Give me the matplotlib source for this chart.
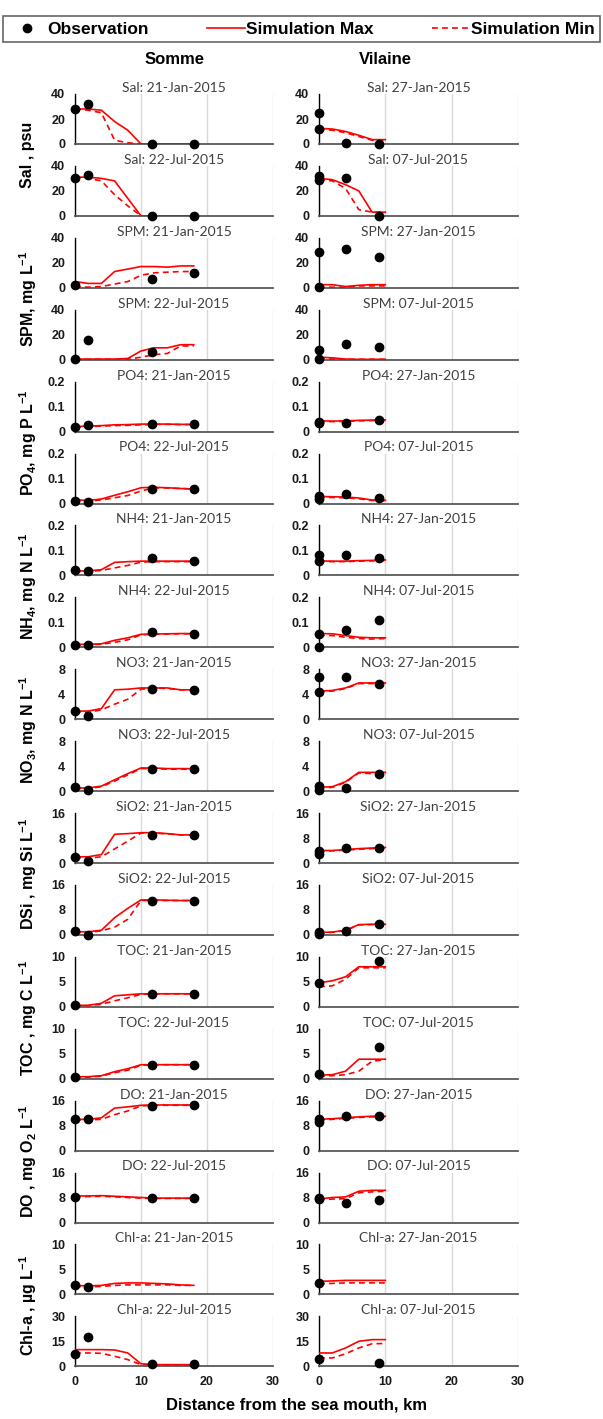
import numpy as np
import matplotlib
matplotlib.use("Agg")
import matplotlib.pyplot as plt

plt.rcParams['font.family'] = ['Liberation Sans', 'DejaVu Sans']
plt.rcParams['mathtext.fontset'] = 'custom'
plt.rcParams['mathtext.rm'] = 'Liberation Sans:bold'
plt.rcParams['mathtext.bf'] = 'Liberation Sans:bold'
plt.rcParams['mathtext.default'] = 'bf'

nan = np.nan

# distances (km)
somme_x_obs = [0, 2, 11.6, 18]
somme_x_sim = [0, 2, 4, 6, 8, 10, 12, 14, 16, 18]
vilaine_x_obs = [0, 0, 4, 9]
vilaine_x_sim = [0, 2, 4, 6, 8, 10]

somme_dates = ["21-Jan-2015", "22-Jul-2015"]
vilaine_dates = ["27-Jan-2015", "07-Jul-2015"]

variables = ["Sal", "SPM", "PO4", "NH4", "NO3", "SiO2", "TOC", "DO", "Chl-a"]
ylabels = ["Sal , psu", "SPM, mg L$^{-1}$", "PO$_4$, mg P L$^{-1}$",
           "NH$_4$, mg N L$^{-1}$", "NO$_3$, mg N L$^{-1}$",
           "DSi , mg Si L$^{-1}$", "TOC , mg C L$^{-1}$",
           "DO , mg O$_2$ L$^{-1}$", "Chl-a , \u00b5g L$^{-1}$"]
# y-axis top for each row (Jan, Jul per variable)
ytops = [40, 40, 40, 40, 0.2, 0.2, 0.2, 0.2, 8, 8, 16, 16, 10, 10, 16, 16, 10, 30]

# ---- Somme ----
sal_s_jan_obs = [28, 32, 0, 0]
sal_s_jan_max = [28, 28, 27, 18, 11, 0, 0, 0, 0, 0]
sal_s_jan_min = [28, 27, 25, 3, 1, 0, 0, 0, 0, 0]
sal_s_jul_obs = [30, 33, 0, 0]
sal_s_jul_max = [31, 31, 30, 28, 14, 0, 0, 0, 0, 0]
sal_s_jul_min = [31, 30, 28, 17, 8, 0, 0, 0, 0, 0]
spm_s_jan_obs = [2.5, nan, 7, 11.5]
spm_s_jan_max = [5, 3.5, 3.5, 13, 15, 17, 17, 16.5, 17.5, 17.5]
spm_s_jan_min = [1, 0.5, 1, 3, 5, 10, 12, 12.5, 13, 13]
spm_s_jul_obs = [0.5, 16, 6, nan]
spm_s_jul_max = [0.5, 0.5, 0.5, 0.5, 1, 7, 9.5, 9.5, 12, 12]
spm_s_jul_min = [0.3, 0.3, 0.3, 0.3, 0.3, 2, 4, 5, 11, 11]
po4_s_jan_obs = [0.02, 0.028, 0.03, 0.03]
po4_s_jan_max = [0.02, 0.022, 0.024, 0.027, 0.028, 0.03, 0.03, 0.03, 0.029, 0.029]
po4_s_jan_min = [0.018, 0.02, 0.022, 0.024, 0.025, 0.027, 0.029, 0.029, 0.028, 0.028]
po4_s_jul_obs = [0.012, 0.008, 0.058, 0.058]
po4_s_jul_max = [0.015, 0.012, 0.018, 0.033, 0.047, 0.063, 0.065, 0.063, 0.06, 0.058]
po4_s_jul_min = [0.012, 0.01, 0.014, 0.023, 0.032, 0.05, 0.063, 0.062, 0.06, 0.058]
nh4_s_jan_obs = [0.02, 0.017, 0.07, 0.058]
nh4_s_jan_max = [0.018, 0.018, 0.023, 0.052, 0.055, 0.057, 0.057, 0.057, 0.057, 0.057]
nh4_s_jan_min = [0.016, 0.016, 0.02, 0.03, 0.04, 0.053, 0.055, 0.055, 0.055, 0.055]
nh4_s_jul_obs = [0.01, 0.01, 0.06, 0.055]
nh4_s_jul_max = [0.012, 0.012, 0.014, 0.028, 0.038, 0.052, 0.053, 0.054, 0.055, 0.055]
nh4_s_jul_min = [0.01, 0.01, 0.012, 0.02, 0.03, 0.05, 0.052, 0.053, 0.054, 0.054]
no3_s_jan_obs = [1.3, 0.5, 4.9, 4.7]
no3_s_jan_max = [1.3, 1.3, 1.7, 4.7, 4.8, 5.0, 5.0, 5.0, 4.7, 4.7]
no3_s_jan_min = [1.2, 1.1, 1.5, 2.4, 3.2, 4.8, 5.0, 4.9, 4.7, 4.7]
no3_s_jul_obs = [0.6, 0.1, 3.6, 3.6]
no3_s_jul_max = [0.5, 0.5, 0.8, 1.8, 2.8, 3.7, 3.7, 3.6, 3.6, 3.6]
no3_s_jul_min = [0.4, 0.4, 0.7, 1.6, 2.6, 3.6, 3.6, 3.5, 3.5, 3.5]
si_s_jan_obs = [1.8, 0.8, 8.9, 8.9]
si_s_jan_max = [2, 2, 2.7, 9.2, 9.4, 9.7, 9.7, 9.4, 9, 9]
si_s_jan_min = [1.8, 1.5, 2, 4.5, 7, 9.6, 9.6, 9.3, 9, 9]
si_s_jul_obs = [1.1, 0.1, 11, 11]
si_s_jul_max = [1, 1, 1.5, 5.5, 8.5, 11.2, 11.2, 11.1, 11, 11]
si_s_jul_min = [0.8, 0.8, 1.3, 2.5, 5, 11, 11, 11, 11, 11]
toc_s_jan_obs = [0.3, nan, 2.6, 2.6]
toc_s_jan_max = [0.3, 0.3, 0.7, 2.2, 2.4, 2.6, 2.6, 2.6, 2.6, 2.6]
toc_s_jan_min = [0.2, 0.2, 0.5, 1.2, 1.8, 2.5, 2.6, 2.6, 2.6, 2.6]
toc_s_jul_obs = [0.3, nan, 2.8, 2.8]
toc_s_jul_max = [0.4, 0.4, 0.6, 1.4, 2.0, 2.8, 2.8, 2.8, 2.8, 2.8]
toc_s_jul_min = [0.3, 0.3, 0.5, 1.2, 1.7, 2.7, 2.8, 2.8, 2.8, 2.8]
do_s_jan_obs = [10, 10, 14.3, 14.6]
do_s_jan_max = [10, 10, 10.5, 13.6, 14, 14.5, 14.6, 14.6, 14.6, 14.6]
do_s_jan_min = [9.8, 9.8, 10, 11.5, 12.7, 14.3, 14.5, 14.5, 14.5, 14.5]
do_s_jul_obs = [8.2, nan, 7.7, 7.8]
do_s_jul_max = [8.5, 8.5, 8.6, 8.4, 8.2, 8.0, 7.8, 7.8, 7.8, 7.8]
do_s_jul_min = [8.3, 8.3, 8.4, 8.2, 8.0, 7.8, 7.7, 7.7, 7.7, 7.7]
chl_s_jan_obs = [1.8, 1.5, nan, nan]
chl_s_jan_max = [1.8, 1.7, 1.8, 2.2, 2.3, 2.3, 2.2, 2.1, 1.9, 1.8]
chl_s_jan_min = [1.6, 1.5, 1.6, 1.8, 1.9, 1.9, 1.9, 1.9, 1.8, 1.8]
chl_s_jul_obs = [7.5, 17.5, 1.5, 1.5]
chl_s_jul_max = [10, 10, 10, 9.8, 8, 1.5, 1, 1, 1, 1]
chl_s_jul_min = [8, 8, 7.8, 6, 4, 1, 0.8, 0.8, 0.8, 0.8]

# ---- Vilaine ----
sal_v_jan_obs = [25, 12, 1, 0]
sal_v_jan_max = [12.5, 12, 10, 7, 3.5, 3.5]
sal_v_jan_min = [12, 11, 9, 6, 3, 3]
sal_v_jul_obs = [32, 29, 30, 0]
sal_v_jul_max = [30, 29, 25, 20, 3, 3]
sal_v_jul_min = [29, 28, 22, 5, 3, 3]
spm_v_jan_obs = [29, 1, 31, 25]
spm_v_jan_max = [2.5, 2.5, 1, 2, 2.5, 2.5]
spm_v_jan_min = [0.5, 0.5, 0.5, 1.5, 1.5, 1.5]
spm_v_jul_obs = [7.7, 0.3, 12.5, 10.4]
spm_v_jul_max = [2, 1.5, 0.5, 0.3, 0.3, 0.3]
spm_v_jul_min = [1, 0.5, 0.3, 0.3, 0.3, 0.3]
po4_v_jan_obs = [0.04, 0.035, 0.035, 0.048]
po4_v_jan_max = [0.043, 0.042, 0.043, 0.045, 0.046, 0.047]
po4_v_jan_min = [0.04, 0.04, 0.041, 0.043, 0.044, 0.045]
po4_v_jul_obs = [0.03, 0.02, 0.037, 0.022]
po4_v_jul_max = [0.028, 0.027, 0.026, 0.022, 0.014, 0.013]
po4_v_jul_min = [0.025, 0.024, 0.023, 0.019, 0.012, 0.011]
nh4_v_jan_obs = [0.08, 0.058, 0.08, 0.068]
nh4_v_jan_max = [0.058, 0.057, 0.057, 0.059, 0.06, 0.062]
nh4_v_jan_min = [0.056, 0.055, 0.055, 0.057, 0.058, 0.06]
nh4_v_jul_obs = [0.055, 0.0, 0.07, 0.11]
nh4_v_jul_max = [0.055, 0.054, 0.047, 0.04, 0.038, 0.038]
nh4_v_jul_min = [0.048, 0.047, 0.04, 0.035, 0.033, 0.035]
no3_v_jan_obs = [6.8, 4.4, 6.7, 5.7]
no3_v_jan_max = [4.5, 4.6, 5.0, 5.8, 5.8, 5.8]
no3_v_jan_min = [4.4, 4.5, 4.9, 5.7, 5.7, 5.7]
no3_v_jul_obs = [0.8, 0.1, 0.5, 2.7]
no3_v_jul_max = [0.6, 0.7, 1.5, 3.0, 3.0, 3.0]
no3_v_jul_min = [0.5, 0.6, 1.4, 2.9, 2.8, 2.8]
si_v_jan_obs = [3.8, 3.0, 4.7, 4.7]
si_v_jan_max = [4, 4, 4.3, 4.6, 4.8, 5]
si_v_jan_min = [3.8, 3.9, 4.1, 4.4, 4.6, 4.8]
si_v_jul_obs = [1.0, 0.3, 1.2, 3.5]
si_v_jul_max = [0.8, 0.9, 1.5, 3.3, 3.4, 3.4]
si_v_jul_min = [0.7, 0.8, 1.4, 3.2, 3.3, 3.3]
toc_v_jan_obs = [4.8, nan, nan, 9.1]
toc_v_jan_max = [4.8, 5.2, 6.0, 8.0, 8.0, 8.0]
toc_v_jan_min = [4.0, 4.2, 5.5, 7.8, 7.8, 7.8]
toc_v_jul_obs = [1.0, nan, nan, 6.3]
toc_v_jul_max = [0.7, 0.8, 1.5, 3.9, 3.9, 3.9]
toc_v_jul_min = [0.5, 0.6, 0.8, 1.5, 3.5, 3.8]
do_v_jan_obs = [10, 9, 11, 11]
do_v_jan_max = [10, 10.2, 10.5, 10.8, 11, 11]
do_v_jan_min = [9.8, 10, 10.3, 10.6, 10.8, 10.8]
do_v_jul_obs = [7.8, 7.5, 6.2, 7.2]
do_v_jul_max = [7.5, 8, 8.2, 10, 10.3, 10.3]
do_v_jul_min = [7.3, 7.5, 7.6, 9.5, 9.8, 10]
chl_v_jan_obs = [2.3, nan, nan, nan]
chl_v_jan_max = [2.6, 2.7, 2.8, 2.8, 2.8, 2.8]
chl_v_jan_min = [2.1, 2.2, 2.3, 2.3, 2.3, 2.3]
chl_v_jul_obs = [4.5, nan, nan, 2.2]
chl_v_jul_max = [8, 8, 11, 15, 16, 16]
chl_v_jul_min = [5, 5, 7.5, 11, 13.5, 13.7]

somme_rows = [
    (sal_s_jan_obs, sal_s_jan_max, sal_s_jan_min), (sal_s_jul_obs, sal_s_jul_max, sal_s_jul_min),
    (spm_s_jan_obs, spm_s_jan_max, spm_s_jan_min), (spm_s_jul_obs, spm_s_jul_max, spm_s_jul_min),
    (po4_s_jan_obs, po4_s_jan_max, po4_s_jan_min), (po4_s_jul_obs, po4_s_jul_max, po4_s_jul_min),
    (nh4_s_jan_obs, nh4_s_jan_max, nh4_s_jan_min), (nh4_s_jul_obs, nh4_s_jul_max, nh4_s_jul_min),
    (no3_s_jan_obs, no3_s_jan_max, no3_s_jan_min), (no3_s_jul_obs, no3_s_jul_max, no3_s_jul_min),
    (si_s_jan_obs, si_s_jan_max, si_s_jan_min), (si_s_jul_obs, si_s_jul_max, si_s_jul_min),
    (toc_s_jan_obs, toc_s_jan_max, toc_s_jan_min), (toc_s_jul_obs, toc_s_jul_max, toc_s_jul_min),
    (do_s_jan_obs, do_s_jan_max, do_s_jan_min), (do_s_jul_obs, do_s_jul_max, do_s_jul_min),
    (chl_s_jan_obs, chl_s_jan_max, chl_s_jan_min), (chl_s_jul_obs, chl_s_jul_max, chl_s_jul_min),
]
vilaine_rows = [
    (sal_v_jan_obs, sal_v_jan_max, sal_v_jan_min), (sal_v_jul_obs, sal_v_jul_max, sal_v_jul_min),
    (spm_v_jan_obs, spm_v_jan_max, spm_v_jan_min), (spm_v_jul_obs, spm_v_jul_max, spm_v_jul_min),
    (po4_v_jan_obs, po4_v_jan_max, po4_v_jan_min), (po4_v_jul_obs, po4_v_jul_max, po4_v_jul_min),
    (nh4_v_jan_obs, nh4_v_jan_max, nh4_v_jan_min), (nh4_v_jul_obs, nh4_v_jul_max, nh4_v_jul_min),
    (no3_v_jan_obs, no3_v_jan_max, no3_v_jan_min), (no3_v_jul_obs, no3_v_jul_max, no3_v_jul_min),
    (si_v_jan_obs, si_v_jan_max, si_v_jan_min), (si_v_jul_obs, si_v_jul_max, si_v_jul_min),
    (toc_v_jan_obs, toc_v_jan_max, toc_v_jan_min), (toc_v_jul_obs, toc_v_jul_max, toc_v_jul_min),
    (do_v_jan_obs, do_v_jan_max, do_v_jan_min), (do_v_jul_obs, do_v_jul_max, do_v_jul_min),
    (chl_v_jan_obs, chl_v_jan_max, chl_v_jan_min), (chl_v_jul_obs, chl_v_jul_max, chl_v_jul_min),
]

W, H = 603, 1419
fig = plt.figure(figsize=(W / 100, H / 100), dpi=100)

row0 = 144      # pixel y of zero line, first row
pitch = 71.9
ph = 50         # panel height px
cols = [(75, 198, somme_x_obs, somme_x_sim, somme_rows, somme_dates),
        (319, 199, vilaine_x_obs, vilaine_x_sim, vilaine_rows, vilaine_dates)]

handles = None
for c, (xl, pw, xo, xs, rows, dates) in enumerate(cols):
    for i in range(18):
        y0 = row0 + i * pitch
        ax = fig.add_axes([xl / W, 1 - y0 / H, pw / W, ph / H])
        obs, smax, smin = rows[i]
        top = ytops[i]
        l1, = ax.plot(xs, smax, color='#ff0000', lw=1.2, label='Simulation Max', zorder=3)
        l2, = ax.plot(xs, smin, color='#ff0000', lw=1.2, ls=(0, (3.5, 2.5)),
                      label='Simulation Min', zorder=3)
        l0, = ax.plot(xo, obs, 'o', color='black', ms=6, clip_on=False,
                      label='Observation', zorder=4)
        if handles is None:
            handles = [l0, l1, l2]
        ax.set_xlim(0, 30)
        ax.set_ylim(0, top)
        ax.set_xticks([0, 10, 20, 30])
        ax.set_yticks([0, top / 2, top])
        ax.set_yticklabels([f"{v:g}" for v in [0, top / 2, top]])
        ax.grid(axis='x', color='#d9d9d9', lw=1)
        ax.set_axisbelow(True)
        for s in ['top', 'right']:
            ax.spines[s].set_visible(False)
        ax.spines['bottom'].set_color('#595959')
        ax.spines['bottom'].set_linewidth(1.3)
        ax.spines['left'].set_color('black')
        ax.spines['left'].set_linewidth(1.0)
        ax.tick_params(length=0, pad=7, labelsize=9, colors='#1a1a1a')
        for t in ax.get_yticklabels() + ax.get_xticklabels():
            t.set_fontweight('bold')
        if i < 17:
            ax.set_xticklabels([])
        var = variables[i // 2]
        ax.set_title(f"{var}: {dates[i % 2]}", fontsize=10, color='#404040',
                     family=['Lato', 'DejaVu Sans'], pad=0.5)

# variable labels
for k, lab in enumerate(ylabels):
    yc = ((row0 + 2 * k * pitch - ph) + (row0 + (2 * k + 1) * pitch)) / 2
    fig.text(28 / W, 1 - yc / H, lab, rotation=90, ha='center', va='center',
             fontsize=11.5, fontweight='bold')

fig.text(175 / W, 1 - 59 / H, "Somme", ha='center', va='center',
         fontsize=12, fontweight='bold')
fig.text(385 / W, 1 - 59 / H, "Vilaine", ha='center', va='center',
         fontsize=12, fontweight='bold')
fig.text(296 / W, 1 - 1405 / H, "Distance from the sea mouth, km", ha='center',
         va='center', fontsize=12, fontweight='bold')

leg = fig.legend(handles=handles, loc='lower left', ncol=3, mode='expand',
                 bbox_to_anchor=(3 / W, 1 - 42 / H, 597 / W, 38 / H),
                 frameon=True, fancybox=False, borderaxespad=0,
                 prop={'weight': 'bold', 'size': 12.5}, handlelength=2.2,
                 handletextpad=0.05, columnspacing=0.5, borderpad=0.3)
leg.get_frame().set_edgecolor('#404040')
leg.get_frame().set_linewidth(1.2)

fig.savefig("out.png", dpi=100)
